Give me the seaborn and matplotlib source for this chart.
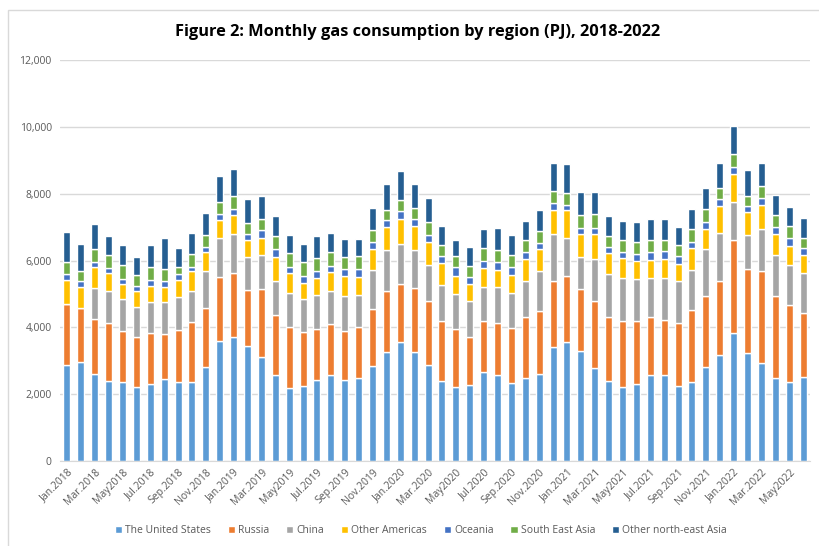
import numpy as np
import pandas as pd
import matplotlib
matplotlib.use("Agg")
import matplotlib.pyplot as plt
from matplotlib.patches import Patch, Rectangle
from matplotlib.ticker import FuncFormatter
import seaborn as sns

# meses de ene-2018 a jun-2022
month_names = ["Jan.", "Feb.", "Mar.", "Apr.", "May", "Jun.", "Jul.", "Aug.", "Sep.", "Oct.", "Nov.", "Dec."]
months = [f"{m}{y}" for y in range(2018, 2023) for m in month_names][:54]

regions = ["The United States", "Russia", "China", "Other Americas", "Oceania",
           "South East Asia", "Other north-east Asia"]
colors = ["#5B9BD5", "#ED7D31", "#A5A5A5", "#FFC000", "#4472C4", "#70AD47", "#255E91"]

# valores (PJ)
usa = [2880, 2950, 2600, 2400, 2350, 2200, 2300, 2450, 2350, 2350, 2800, 3580,
       3720, 3450, 3100, 2580, 2180, 2250, 2420, 2580, 2420, 2480, 2850, 3250,
       3550, 3250, 2880, 2400, 2200, 2280, 2670, 2580, 2320, 2470, 2600, 3400,
       3550, 3280, 2780, 2400, 2200, 2300, 2580, 2570, 2250, 2360, 2800, 3180,
       3830, 3230, 2930, 2480, 2360, 2510]
russia = [1820, 1630, 1650, 1730, 1530, 1500, 1520, 1350, 1580, 1800, 1780, 1940,
          1900, 1670, 2050, 1800, 1820, 1600, 1530, 1520, 1480, 1540, 1700, 1850,
          1750, 1930, 1920, 1800, 1750, 1440, 1530, 1540, 1660, 1850, 1900, 1980,
          2000, 1870, 2020, 1920, 2000, 1880, 1720, 1660, 1870, 2150, 2130, 2220,
          2780, 2530, 2770, 2450, 2320, 1920]
china = [0, 0, 930, 950, 970, 920, 950, 950, 970, 950, 1100, 1160,
         1180, 980, 1000, 1020, 1020, 1000, 1030, 1000, 1030, 960, 1170, 1200,
         1180, 1120, 1070, 1080, 1050, 1060, 1000, 1100, 1040, 1080, 1180, 1400,
         1130, 950, 1250, 1280, 1270, 1270, 1170, 1240, 1260, 1220, 1400, 1430,
         1140, 990, 1250, 1220, 1200, 1200]
other_americas = [720, 640, 620, 540, 450, 460, 480, 470, 520, 580, 570, 540,
                  550, 520, 530, 700, 600, 470, 490, 550, 600, 540, 630, 700,
                  770, 720, 680, 640, 550, 520, 580, 500, 560, 650, 670, 740,
                  820, 700, 750, 620, 610, 550, 550, 580, 520, 630, 620, 800,
                  850, 710, 710, 650, 550, 520]
oceania = [180, 160, 150, 160, 150, 150, 170, 160, 180, 140, 150, 180,
           200, 160, 220, 250, 180, 230, 230, 200, 220, 230, 190, 200,
           230, 210, 220, 200, 250, 220, 220, 230, 220, 200, 170, 200,
           170, 180, 180, 180, 170, 200, 230, 230, 220, 200, 200, 200,
           200, 170, 200, 200, 250, 210]
se_asia = [350, 320, 400, 370, 420, 350, 380, 370, 200, 360, 350, 350,
           370, 340, 350, 370, 420, 400, 380, 400, 350, 370, 380, 320,
           340, 350, 380, 350, 320, 330, 380, 370, 350, 350, 360, 350,
           350, 370, 400, 320, 370, 350, 370, 340, 350, 370, 400, 330,
           400, 300, 370, 360, 350, 320]
ne_asia = [900, 780, 750, 570, 580, 520, 670, 930, 570, 640, 670, 780,
           820, 710, 680, 600, 530, 530, 650, 580, 530, 530, 660, 780,
           860, 720, 730, 570, 500, 550, 570, 660, 620, 580, 620, 850,
           880, 700, 670, 600, 560, 600, 630, 610, 530, 600, 630, 750,
           830, 780, 700, 600, 580, 580]

series = [usa, russia, china, other_americas, oceania, se_asia, ne_asia]

df = pd.DataFrame({"month": months})
for name, vals in zip(regions, series):
    df[name] = vals

sns.set_style("white")
plt.rcParams["font.family"] = ["Open Sans", "DejaVu Sans"]

fig = plt.figure(figsize=(8.19, 5.46), dpi=100)
ax = fig.add_axes([60 / 819, 1 - 461 / 546, 750 / 819, 401 / 546])

# barras apiladas, una llamada por region
base = np.zeros(len(df))
for name, c in zip(regions, colors):
    sns.barplot(x=df["month"], y=df[name], bottom=base, color=c, width=0.5,
                errorbar=None, saturation=1, ax=ax, order=months)
    base = base + df[name].values

ax.set_ylim(0, 12000)
ax.set_xlim(-0.5, len(months) - 0.5)
ax.set_yticks(range(0, 12001, 2000))
ax.yaxis.set_major_formatter(FuncFormatter(lambda v, p: f"{int(v):,}"))
ax.yaxis.grid(True, color="#D9D9D9", linewidth=1)
ax.set_axisbelow(True)
for s in ["top", "right", "left"]:
    ax.spines[s].set_visible(False)
ax.spines["bottom"].set_color("#D9D9D9")
ax.set_xlabel("")
ax.set_ylabel("")

ax.set_xticks(range(0, len(months), 2))
ax.set_xticklabels(months[::2], rotation=45, ha="right", rotation_mode="anchor")
ax.tick_params(axis="x", length=0, pad=4, labelsize=7.5, labelcolor="#595959")
ax.tick_params(axis="y", length=0, pad=6, labelsize=7.5, labelcolor="#595959")

fig.text(0.51, 1 - 32 / 546, "Figure 2: Monthly gas consumption by region (PJ), 2018-2022",
         ha="center", va="center", fontsize=11.8, fontweight="bold", color="black")

handles = [Patch(facecolor=c, label=n) for n, c in zip(regions, colors)]
fig.legend(handles=handles, loc="center", bbox_to_anchor=(0.514, 0.028), ncol=7,
           frameon=False, fontsize=7.5, handlelength=0.7, handleheight=0.7,
           handletextpad=0.3, columnspacing=1.6, labelcolor="#595959")

# marco del grafico
fig.patches.append(Rectangle((8 / 819, -0.05), 1.2, 1 - 10 / 546 + 0.05,
                             transform=fig.transFigure, fill=False,
                             edgecolor="#D9D9D9", linewidth=1))

fig.savefig("out.png", dpi=100)
